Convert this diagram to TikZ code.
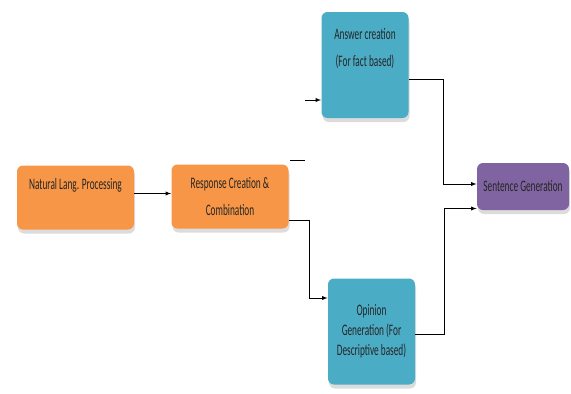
\documentclass[tikz,border=0pt]{standalone}
\usepackage{fontspec}
\setmainfont{Carlito}[FakeStretch=0.58]
\usepackage{tikz}
\usetikzlibrary{shadows, arrows}
\definecolor{boxorange}{HTML}{F79646}
\definecolor{boxblue}{HTML}{4BACC6}
\definecolor{boxpurple}{HTML}{8064A2}

\begin{document}
\begin{tikzpicture}[x=1pt, y=-1pt, >=latex, line width=0.9pt,
  block/.style = {rounded corners=6pt, inner sep=0pt, text=black!85, align=center,
    font=\fontsize{16}{20}\selectfont,
    drop shadow={shadow xshift=1pt, shadow yshift=-4pt, fill=gray!55}},
  orangebox/.style = {block, fill=boxorange, minimum width=117pt, minimum height=64pt},
  bluebox/.style = {block, fill=boxblue, minimum width=87pt, minimum height=106pt},
  purplebox/.style = {block, fill=boxpurple, minimum width=92pt, minimum height=47pt},
  boxtext/.style = {inner sep=0pt, text=black!85, align=center, font=\fontsize{16}{20}\selectfont}]
	\useasboundingbox (0,0) rectangle (571,394);
	\node[orangebox] (nlp) at (75.5,197.5){};
	\node[boxtext] (nlptext) at (75.5,185){Natural Lang. Processing};
	\node[orangebox] (resp) at (230,196.5){Response Creation \&\\[7pt]Combination};
	\node[bluebox] (ans) at (365,65){};
	\node[boxtext] (anstext) at (365,49){Answer creation\\[7pt](For fact based)};
	\node[bluebox] (opin) at (371.5,331.5){Opinion\\Generation (For\\Descriptive based)};
	\node[purplebox] (sent) at (523,186.5){Sentence Generation};
	\coordinate (stub) at (305,100);
	\coordinate (dash) at (290,160);
	\coordinate (c1) at ([yshift=4pt]nlp.east);
	\draw[->] (c1) -- (c1 -| resp.west);
	\draw (dash) -- ++(15,0);
	\draw[->] (stub) -- (stub -| ans.west);
	\draw[->] ([yshift=-14pt]ans.east) -- ++(34,0) |- ([yshift=2.5pt]sent.west);
	\draw[->] ([yshift=-23.5pt]resp.east) -- ++(20,0) |- ([yshift=33.5pt]opin.west);
	\draw[->] ([yshift=-2.5pt]opin.east) -- ++(29,0) |- ([yshift=-22pt]sent.west);
\end{tikzpicture}
\end{document}
